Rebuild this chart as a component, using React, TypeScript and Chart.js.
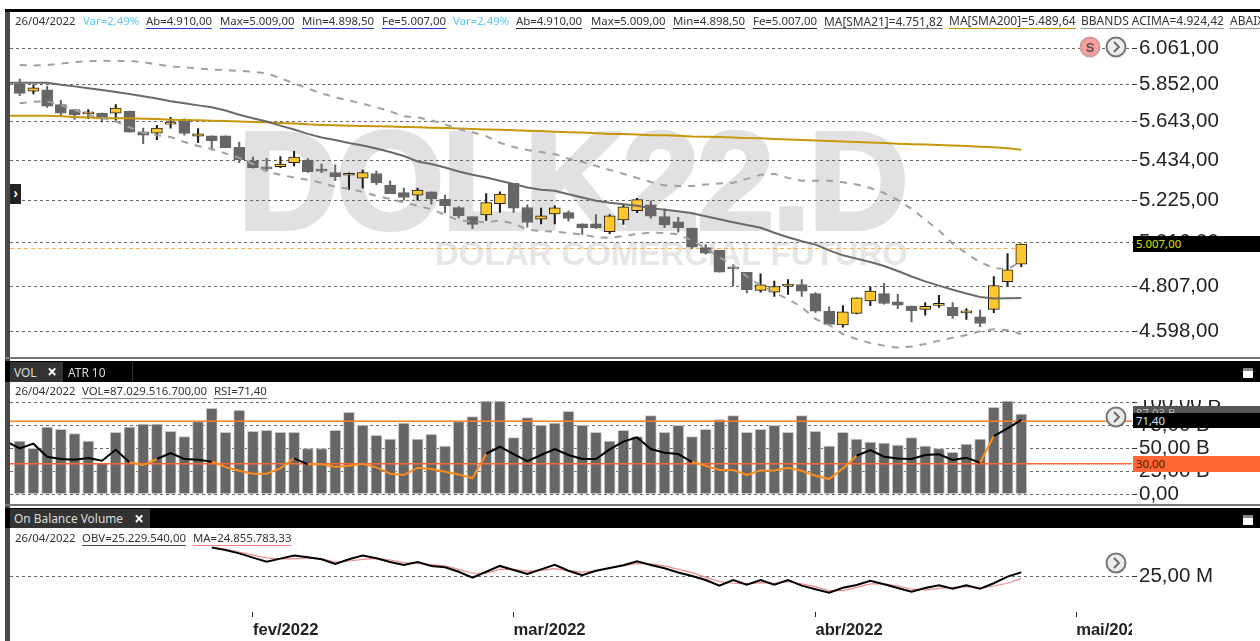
import React, { useEffect, useRef } from "react";
import { Chart, registerables } from "chart.js";

Chart.register(...registerables);

// ---------- Data ----------
const opens = [5854,5812,5820,5736,5708,5685,5689,5689,5700,5586,5579,5628,5647,5563,5565,5565,5503,5430,5395,5400,5421,5435,5387,5369,5355,5340,5364,5304,5265,5252,5269,5231,5189,5143,5152,5209,5313,5189,5130,5157,5163,5107,5107,5068,5127,5173,5203,5143,5117,5086,4990,4977,4890,4872,4787,4779,4807,4814,4772,4691,4628,4681,4738,4772,4734,4714,4699,4717,4708,4683,4665,4699,4828,4910];
const highs = [5880,5848,5839,5760,5708,5708,5689,5736,5700,5607,5621,5665,5658,5604,5565,5565,5531,5451,5444,5453,5481,5442,5413,5409,5368,5382,5378,5326,5288,5288,5269,5252,5194,5143,5260,5269,5313,5203,5186,5198,5173,5107,5153,5153,5206,5236,5223,5182,5140,5086,5005,4977,4910,4872,4864,4830,4837,4837,4777,4711,4716,4752,4802,4820,4768,4714,4730,4764,4730,4703,4696,4851,4961,5009];
const lows = [5787,5796,5721,5671,5654,5658,5639,5649,5584,5522,5543,5606,5568,5528,5487,5500,5421,5392,5378,5395,5404,5369,5368,5326,5280,5288,5306,5260,5226,5226,5206,5163,5137,5083,5124,5165,5165,5091,5107,5107,5120,5055,5083,5058,5104,5163,5135,5088,5066,4985,4958,4873,4808,4775,4779,4759,4768,4759,4685,4628,4618,4678,4716,4723,4702,4642,4672,4708,4658,4653,4620,4684,4806,4898.5];
const closes = [5799,5831,5727,5688,5680,5688,5661,5717,5584,5568,5607,5631,5577,5575,5538,5501,5437,5395,5388,5413,5451,5374,5376,5348,5358,5369,5316,5260,5240,5278,5233,5198,5148,5104,5214,5257,5186,5114,5147,5188,5134,5088,5088,5147,5193,5229,5145,5102,5088,4993,4964,4873,4888,4790,4813,4805,4810,4783,4691,4631,4688,4752,4783,4726,4718,4693,4713,4720,4670,4686,4635,4809,4884,5007];

// First value of these three sits one session before the first candle.
const sma21 = [5860,5860,5860,5859,5848,5839,5829,5818,5807,5796,5783,5770,5755,5744,5732,5721,5703,5680,5661,5643,5620,5599,5575,5555,5542,5526,5512,5496,5477,5456,5427,5414,5395,5374,5357,5343,5326,5309,5291,5280,5274,5257,5240,5223,5213,5206,5198,5186,5178,5170,5160,5145,5130,5115,5102,5088,5063,5041,5021,5005,4977,4953,4937,4921,4902,4878,4852,4829,4809,4790,4772,4756,4749,4750,4751.82];
const sma200 = [5675,5675,5675,5675,5671,5668,5665,5661,5661,5660,5658,5656,5652,5651,5649,5647,5645,5643,5640,5638,5635,5632,5627,5624,5622,5620,5618,5616,5615,5613,5611,5609,5607,5604,5602,5599,5597,5595,5592,5590,5586,5584,5582,5579,5575,5574,5572,5568,5567,5565,5561,5560,5558,5555,5552,5551,5547,5544,5542,5539,5536,5534,5531,5528,5526,5522,5519,5517,5515,5512,5510,5506,5503,5498,5489.64];
const rsi = [51,44.5,48.9,36.6,34.4,33.8,35.3,32.8,43.2,31.3,28.7,34.4,40.1,34.4,33.8,31.9,26.9,23.4,20.6,20.6,25.6,35,29.4,29.7,26.9,28.1,30,26.5,20.6,19.3,26.2,25,22.5,19.9,16.2,39.4,46,39.1,32.5,38.2,43.8,38.2,34.4,34.4,43.5,50.8,54.8,43.8,40.4,39.1,31.6,28.1,24,24,19.3,23.7,23.7,26.2,23.4,18.7,15.5,25.6,37.5,42.9,36.6,35,34.4,38.2,38.8,33.5,35.7,30.9,56.1,63.3,71.4];

const bbUpper = [5962,5959,5962,5970,5979,5985,5986,5985,5986,5979,5965,5953,5948,5942,5936,5932,5928,5923,5913,5887,5855,5827,5799,5777,5760,5741,5721,5699,5671,5665,5649,5627,5600,5584,5563,5527,5504,5488,5477,5466,5442,5425,5404,5383,5362,5341,5320,5302,5299,5299,5307,5312,5316,5336,5357,5362,5341,5326,5326,5326,5318,5307,5289,5263,5227,5183,5129,5074,5010,4962,4919,4893,4886,4924.42];
const bbLower = [5744,5752,5755,5732,5707,5679,5663,5643,5611,5581,5568,5558,5531,5510,5494,5470,5446,5414,5373,5357,5343,5331,5316,5295,5285,5269,5248,5233,5215,5198,5181,5153,5124,5119,5115,5124,5109,5079,5072,5069,5062,5055,5041,5038,5047,5057,5064,5062,5055,5025,4986,4943,4905,4852,4809,4777,4746,4709,4655,4628,4587,4565,4547,4536,4527,4532,4543,4558,4571,4583,4600,4609,4605,4587];

const volumes = [57.8,49.8,73,70.5,65.8,57.8,33.4,67.2,73,76.3,76.3,68.3,62.5,78.9,93.4,67.2,91.2,68.3,69.4,67.2,67.2,49.4,49.4,69.4,89,75.2,64,60,77.4,60,65,52.3,78.9,84.3,101.4,101.4,61.4,83.2,75.2,77.4,90.1,75.2,67.2,57.8,69.4,62.5,85.4,67.2,74.9,62.5,70.5,81,85.4,67.2,70.5,74.9,67.2,85.4,68.3,52.3,67.2,60,56.7,55.6,53.4,61.4,52.3,49.4,45.4,54.5,60,94.5,101.4,87.03];

// OBV and its average start at session 14.
const obvStart = 14;
const obv = [26.69,26.55,26.35,26.1,25.86,26.04,26.22,26.12,26,25.73,26,26.22,26.06,25.84,25.67,25.84,25.61,25.53,25.27,24.92,25.27,25.61,25.37,25.14,25.41,25.67,25.33,25.06,25.33,25.49,25.65,25.88,25.67,25.47,25.22,25.02,24.78,24.45,24.78,24.51,24.78,24.51,24.78,24.45,24.24,24.04,24.33,24.49,24.73,24.53,24.31,24.1,24.31,24.47,24.27,24.47,24.27,24.59,24.98,25.23];
const obvMa = [26.69,26.59,26.43,26.25,26.08,26.02,26.02,26.08,26.04,25.84,25.9,26,26.06,25.96,25.8,25.78,25.69,25.61,25.41,25.18,25.18,25.41,25.41,25.31,25.35,25.45,25.33,25.25,25.31,25.49,25.61,25.76,25.73,25.61,25.41,25.22,24.94,24.69,24.59,24.55,24.63,24.59,24.69,24.55,24.39,24.16,24.16,24.35,24.55,24.57,24.43,24.24,24.2,24.29,24.35,24.39,24.29,24.43,24.59,24.86];

const priceTicks = [6061,5852,5643,5434,5225,5016,4807,4598];
const priceTickLabels = ["6.061,00","5.852,00","5.643,00","5.434,00","5.225,00","5.016,00","4.807,00","4.598,00"];
const volumeTicks = [0,25,50,75,100];
const volumeTickLabels = ["0,00","25,00 B","50,00 B","75,00 B","100,00 B"];
const obvTicks = [25];
const obvTickLabels = ["25,00 M"];
const monthTicks = [17,36,58,77];
const monthLabels = ["fev/2022","mar/2022","abr/2022","mai/2022"];
const referencePrice = 4986;
const rsiUpper = 70;
const rsiLower = 30;

const lastDate = "26/04/2022";
const TICKER = "DOLK22.D";
const TICKER_NAME = "DOLAR COMERCIAL FUTURO";

// ---------- Layout & styles ----------
const W = 1260;
const H = 641;
const AREA_LEFT = 10;
const AREA_RIGHT = 1132;
const X0 = 19.7;
const DX = 13.72;
const xMin = (AREA_LEFT - X0) / DX;
const xMax = (AREA_RIGHT - X0) / DX;

const UI = '"Noto Sans", "Open Sans", sans-serif';
const AXIS = '"Liberation Sans", Arial, sans-serif';
const GOLD = "#ffc72c";
const GRAY = "#666666";
const DARK = "#1e1e1e";

const xScale = (extra: any = {}) => ({
  type: "linear",
  min: xMin,
  max: xMax,
  offset: false,
  display: false,
  grid: { display: false, offset: false },
  ...extra,
});

const yScale = (ticks: number[], labels: string[], extra: any = {}) => ({
  position: "right",
  beginAtZero: false,
  afterFit: (s: any) => { s.width = W - AREA_RIGHT; },
  afterBuildTicks: (s: any) => { s.ticks = ticks.map((value) => ({ value })); },
  border: { display: false, dash: [3, 3] },
  grid: { color: "#666666", lineWidth: 1, tickLength: 5, tickColor: "#333333", tickBorderDash: [] },
  ticks: {
    autoSkip: false,
    padding: 2,
    color: "#222222",
    font: { family: AXIS, size: 20.5 },
    callback: (v: number) => labels[ticks.indexOf(v)] ?? "",
  },
  ...extra,
});

const lineDs = (data: number[], startX: number, yAxisID: string, color: string, width: number, extra: any = {}) => ({
  type: "line",
  data: data.map((y, i) => ({ x: i + startX, y })),
  yAxisID,
  xAxisID: "x",
  borderColor: color,
  borderWidth: width,
  pointRadius: 0,
  tension: 0,
  fill: false,
  ...extra,
});

const baseOptions = (padding: any, scales: any) => ({
  responsive: false,
  animation: false,
  events: [],
  layout: { padding: { left: AREA_LEFT, right: 0, ...padding } },
  plugins: { legend: { display: false }, tooltip: { enabled: false } },
  scales,
});

const watermark = {
  id: "watermark",
  beforeDraw(chart: any) {
    const { ctx } = chart;
    ctx.save();
    ctx.textBaseline = "alphabetic";
    ctx.textAlign = "left";
    ctx.fillStyle = "#e1e1e1";
    ctx.strokeStyle = "#e1e1e1";
    ctx.lineJoin = "round";
    ctx.lineWidth = 4;
    ctx.font = `bold 139px ${AXIS}`;
    ctx.letterSpacing = "-2.4px";
    ctx.fillText(TICKER, 238, 229);
    ctx.strokeText(TICKER, 238, 229);
    ctx.letterSpacing = "0px";
    ctx.fillStyle = "#e6e6e6";
    ctx.font = `bold 33px ${AXIS}`;
    ctx.fillText(TICKER_NAME, 435, 265);
    ctx.restore();
  },
};

// ---------- Overlay pieces ----------
type Item = { t: string; x: number; c?: string; u?: string; s?: number };
const priceHeader: Item[] = [
  { t: lastDate, x: 15 },
  { t: "Var=2,49%", x: 83, c: "#5cc8f5" },
  { t: "Ab=4.910,00", x: 146, u: "#1f3fd0" },
  { t: "Max=5.009,00", x: 220, u: "#1f3fd0" },
  { t: "Min=4.898,50", x: 302, u: "#1f3fd0" },
  { t: "Fe=5.007,00", x: 382, u: "#1f3fd0" },
  { t: "Var=2,49%", x: 453, c: "#5cc8f5" },
  { t: "Ab=4.910,00", x: 516, u: "#222" },
  { t: "Max=5.009,00", x: 591, u: "#222" },
  { t: "Min=4.898,50", x: 673, u: "#222" },
  { t: "Fe=5.007,00", x: 753, u: "#222" },
  { t: "MA[SMA21]=4.751,82", x: 824, u: "#777", s: 11.9 },
  { t: "MA[SMA200]=5.489,64", x: 949, u: "#c8960a", s: 12 },
  { t: "BBANDS ACIMA=4.924,42", x: 1081, u: "#999", s: 12 },
  { t: "ABAIXO=4.587,00", x: 1230, u: "#999", s: 12 },
];
const volHeader: Item[] = [
  { t: lastDate, x: 15 },
  { t: "VOL=87.029.516.700,00", x: 82, u: "#888" },
  { t: "RSI=71,40", x: 214, u: "#666" },
];
const obvHeader: Item[] = [
  { t: lastDate, x: 15 },
  { t: "OBV=25.229.540,00", x: 82, u: "#444" },
  { t: "MA=24.855.783,33", x: 193, u: "#f08080" },
];

const abs = (x: number, y: number, w: number, h: number, extra: React.CSSProperties = {}): React.CSSProperties => ({
  position: "absolute", left: x, top: y, width: w, height: h, ...extra,
});

const Header = ({ items, y }: { items: Item[]; y: number }) => (
  <>
    {items.map((it, i) => (
      <span
        key={i}
        style={{
          position: "absolute", left: it.x, top: y, font: `${it.s ?? 11.4}px ${UI}`, lineHeight: "14px",
          color: it.c ?? "#333", whiteSpace: "nowrap",
          borderBottom: it.u ? `1px solid ${it.u}` : "none",
        }}
      >
        {it.t}
      </span>
    ))}
  </>
);

const Circle = ({ x, y, s }: { x: number; y: number; s?: boolean }) => (
  <svg style={abs(x - 11, y - 11, 22, 22)} viewBox="0 0 22 22">
    <circle cx="11" cy="11" r="9.5" fill={s ? "#ff9c9c" : "#ececec"} stroke={s ? "#c9a0a0" : "#777"} strokeWidth="2" />
    {s ? (
      <text x="11" y="15.5" textAnchor="middle" fontFamily={AXIS} fontWeight="bold" fontSize="13" fill="#555">S</text>
    ) : (
      <polyline points="9,6 14,11 9,16" fill="none" stroke="#666" strokeWidth="1.8" />
    )}
  </svg>
);

const Tab = ({ x, y, w, h, text }: { x: number; y: number; w: number; h: number; text: string }) => (
  <div style={abs(x, y, w, h, { background: "#333", color: "#ddd", font: `11.9px ${UI}`, lineHeight: `${h}px`, paddingLeft: 4, boxSizing: "border-box", whiteSpace: "nowrap" })}>
    {text}
    <span style={{ position: "absolute", right: 6, top: 0, color: "#fff", fontWeight: 700, fontSize: 17 }}>×</span>
  </div>
);

const Maximize = ({ x, y }: { x: number; y: number }) => (
  <div style={abs(x, y, 10, 10, { background: "#fff", borderTop: "3px solid #888", boxSizing: "border-box" })} />
);

const Tag = ({ y, h, bg, color, text }: { y: number; h: number; bg: string; color: string; text: string }) => (
  <div style={abs(AREA_RIGHT + 1, y, W - AREA_RIGHT - 1, h, { background: bg, color, font: `11.4px ${UI}`, lineHeight: `${h}px`, paddingLeft: 3, boxSizing: "border-box" })}>
    {text}
  </div>
);

// ---------- App ----------
export default function App() {
  const priceRef = useRef<HTMLCanvasElement>(null);
  const volRef = useRef<HTMLCanvasElement>(null);
  const obvRef = useRef<HTMLCanvasElement>(null);

  useEffect(() => {
    const up = (i: number) => closes[i] >= opens[i];
    const price = new Chart(priceRef.current as any, {
      type: "bar",
      plugins: [watermark],
      data: {
        datasets: [
          lineDs(bbUpper, 0, "y", "#a0a0a0", 2, { borderDash: [7, 7], order: 1 }),
          lineDs(bbLower, 0, "y", "#a0a0a0", 2, { borderDash: [7, 7], order: 1 }),
          lineDs(sma21, -1, "y", "#6a6a6a", 2, { order: 1 }),
          lineDs(sma200, -1, "y", "#c8960a", 2, { order: 1 }),
          {
            type: "bar",
            data: opens.map((o, i) => ({ x: i, y: [o, closes[i]] })),
            yAxisID: "y", xAxisID: "x", grouped: false, barThickness: 11, minBarLength: 2, order: 2,
            backgroundColor: opens.map((_, i) => (up(i) ? GOLD : GRAY)),
            borderColor: opens.map((_, i) => (up(i) ? DARK : GRAY)),
            borderWidth: 1, borderSkipped: false,
          },
          {
            type: "bar",
            data: highs.map((h, i) => ({ x: i, y: [lows[i], h] })),
            yAxisID: "y", xAxisID: "x", grouped: false, barThickness: 1.4, order: 3,
            backgroundColor: opens.map((_, i) => (up(i) ? DARK : GRAY)),
            borderWidth: 0,
          },
          lineDs([referencePrice, referencePrice], 0, "y", "#ffb040", 1, {
            data: [{ x: xMin, y: referencePrice }, { x: 73, y: referencePrice }],
            borderDash: [4, 3], order: 4,
          }),
        ],
      },
      options: baseOptions({ top: 12, bottom: H - 357 }, {
        x: xScale(),
        y: yScale(priceTicks, priceTickLabels, { type: "logarithmic", min: 4486, max: 6263.7 }),
      }),
    } as any);

    const vol = new Chart(volRef.current as any, {
      type: "bar",
      data: {
        datasets: [
          lineDs(rsi, -1, "rsi", "#000000", 2, {
            order: 1,
            segment: { borderColor: (c: any) => (c.p0.parsed.y <= 32 ? "#ff8c1a" : "#000000") },
          }),
          lineDs([rsiUpper, rsiUpper], 0, "rsi", "#ff7f27", 1.5, {
            data: [{ x: xMin, y: rsiUpper }, { x: xMax, y: rsiUpper }], order: 2,
          }),
          lineDs([rsiLower, rsiLower], 0, "rsi", "#ff6633", 1.5, {
            data: [{ x: xMin, y: rsiLower }, { x: xMax, y: rsiLower }], order: 2,
          }),
          {
            type: "bar",
            data: volumes.map((v, i) => ({ x: i, y: v })),
            yAxisID: "y", xAxisID: "x", grouped: false, barThickness: 11, order: 3,
            backgroundColor: GRAY, borderColor: "#c8c8c8", borderWidth: { top: 1, left: 1, right: 1, bottom: 0 },
          },
        ],
      },
      options: baseOptions({ top: 382, bottom: H - 503 }, {
        x: xScale(),
        y: yScale(volumeTicks, volumeTickLabels, { type: "linear", min: -9.8, max: 122.1 }),
        rsi: { type: "linear", position: "right", display: false, min: -7.08, max: 107.08 },
      }),
    } as any);

    const obvChart = new Chart(obvRef.current as any, {
      type: "line",
      data: {
        datasets: [
          lineDs(obv, obvStart, "y", "#000000", 2, { order: 1 }),
          lineDs(obvMa, obvStart, "y", "#f08a8a", 1.2, { order: 2 }),
        ],
      },
      options: baseOptions({ top: 530, bottom: 0 }, {
        x: xScale({
          display: true,
          afterFit: (s: any) => { s.height = H - 612; },
          afterBuildTicks: (s: any) => { s.ticks = monthTicks.map((value) => ({ value })); },
          border: { display: false },
          grid: { display: true, drawOnChartArea: false, drawTicks: true, tickLength: 5, tickColor: "#222", offset: false },
          ticks: {
            autoSkip: false, align: "start", maxRotation: 0, padding: 3, color: "#222",
            font: { family: AXIS, size: 16.6, weight: "bold" },
            callback: (v: number) => monthLabels[monthTicks.indexOf(v)] ?? "",
          },
        }),
        y: yScale(obvTicks, obvTickLabels, {
          type: "linear",
          min: 25 - (612 - 576.3) / 17,
          max: 25 + (576.3 - 530) / 17,
        }),
      }),
    } as any);

    return () => { price.destroy(); vol.destroy(); obvChart.destroy(); };
  }, []);

  const canvasStyle: React.CSSProperties = { position: "absolute", left: 0, top: 0, display: "block" };

  return (
    <div style={{ position: "fixed", left: 0, top: 0, width: W, height: H, overflow: "hidden", background: "#fff" }}>
      <canvas ref={priceRef} width={W} height={H} style={canvasStyle} />
      <canvas ref={volRef} width={W} height={H} style={canvasStyle} />
      <canvas ref={obvRef} width={W} height={H} style={canvasStyle} />

      {/* frame */}
      <div style={abs(5, 9, 5, H - 9, { background: "#4a4a4a" })} />
      <div style={abs(5, 9, W - 5, 3, { background: "#000" })} />
      <div style={abs(5, 357, W - 5, 2, { background: "#777" })} />
      <div style={abs(5, 361, W - 5, 21, { background: "#000" })} />
      <div style={abs(5, 504, W - 5, 2, { background: "#777" })} />
      <div style={abs(5, 508, W - 5, 20, { background: "#000" })} />
      <div style={abs(AREA_RIGHT, 620, W - AREA_RIGHT, 21, { background: "#fff" })} />
      <div style={abs(AREA_RIGHT + 1, 382, W - AREA_RIGHT - 1, 18, { background: "#fff" })} />

      {/* tabs */}
      <Tab x={10} y={362} w={53} h={20} text="VOL" />
      <div style={{ position: "absolute", left: 68, top: 362, color: "#ddd", font: `11.9px ${UI}`, lineHeight: "20px" }}>ATR 10</div>
      <div style={abs(132, 362, 1, 20, { background: "#333" })} />
      <Tab x={10} y={509} w={140} h={19} text="On Balance Volume" />
      <Maximize x={1243} y={368} />
      <Maximize x={1243} y={515} />
      <div style={abs(10, 184, 11, 20, { background: "#222", color: "#fff", font: `bold 14px ${AXIS}`, lineHeight: "19px", textAlign: "center" })}>›</div>

      {/* headers */}
      <Header items={priceHeader} y={14} />
      <Header items={volHeader} y={384} />
      <Header items={obvHeader} y={531} />

      {/* tags */}
      <Tag y={236} h={16} bg="#000" color="#d8e000" text="5.007,00" />
      <Tag y={406} h={13} bg="#555" color="#bbb" text="87,03 B" />
      <Tag y={413} h={15} bg="#000" color="#cfe6ff" text="71,40" />
      <Tag y={456} h={16} bg="#ff6633" color="#4a1a00" text="30,00" />

      {/* icons */}
      <Circle x={1090} y={47} s />
      <Circle x={1116} y={47} />
      <Circle x={1116} y={417} />
      <Circle x={1116} y={563} />
    </div>
  );
}
